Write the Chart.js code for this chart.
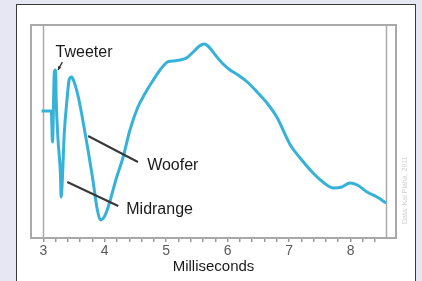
<!DOCTYPE html>
<html>
<head>
<meta charset="utf-8">
<script src="https://cdn.jsdelivr.net/npm/chart.js@4"></script>
<style>
  html, body { margin: 0; padding: 0; }
  body { width: 422px; height: 281px; background: #e7e7f3; position: relative; overflow: hidden; }
  .panel { position: absolute; left: 16px; top: 4px; width: 398px; height: 290px; background: #fff; border: 1px solid #3a3a3a; }
  .chart-wrap { position: absolute; left: 0; top: 0; width: 422px; height: 281px; }
</style>
</head>
<body>
<div class="panel"></div>
<div class="chart-wrap"><canvas id="responseChart" width="422" height="281"></canvas></div>
<script>
// time axis (ms) and response amplitude (arbitrary units)
const timeMs = [2.97, 3.13, 3.15, 3.18, 3.20, 3.21, 3.24, 3.28, 3.29, 3.31, 3.34, 3.39, 3.42, 3.46, 3.49,
  3.57, 3.68, 3.80, 3.88, 3.93, 3.98, 4.04, 4.09, 4.19, 4.30, 4.41, 4.54, 4.66, 4.79, 4.90, 5.02,
  5.10, 5.23, 5.33, 5.44, 5.54, 5.62, 5.68, 5.80, 5.91, 6.04, 6.17, 6.32, 6.48, 6.64, 6.80, 7.02,
  7.18, 7.39, 7.55, 7.72, 7.86, 7.99, 8.11, 8.27, 8.43, 8.58];
const amplitude = [127, 127, 96, 166, 168, 138, 98, 63, 41, 58, 103, 141, 158, 161, 158,
  141, 105, 61, 28, 18, 20, 28, 38, 60, 81, 108, 131, 145, 158, 168, 176,
  177, 178, 180, 186, 192, 194, 192, 183, 175, 168, 163, 156, 146, 135, 121, 93,
  80, 65, 56, 50, 51, 55, 53, 46, 41, 35];
const majorTicks = [3, 4, 5, 6, 7, 8];
const axisTitle = 'Milliseconds';
const labels = ['Tweeter', 'Woofer', 'Midrange'];
const sourceNote = 'Data: Kal Plaha, 2011';

const lineColor = '#36b1d8';
const boxColor = '#a9a9a9';

const points = timeMs.map((t, i) => ({x: t, y: amplitude[i]}));

// annotation anchors in data units
const notes = [
  {text: labels[0], x: 3.20, y: 181, from: [3.31, 176], to: [3.24, 168], head: true},
  {text: labels[1], x: 4.69, y: 68, from: [4.54, 76], to: [3.73, 102], head: false},
  {text: labels[2], x: 4.35, y: 24, from: [4.22, 32], to: [3.39, 56], head: false}
];

const frame = {
  id: 'frame',
  beforeDatasetsDraw(chart) {
    const {ctx, chartArea: a, scales: {x}} = chart;
    ctx.save();
    ctx.strokeStyle = boxColor;
    ctx.lineWidth = 2;
    ctx.strokeRect(a.left, a.top, a.right - a.left, a.bottom - a.top);
    ctx.lineWidth = 1.5;
    [3, timeMs[timeMs.length - 1]].forEach(v => {
      const px = Math.round(x.getPixelForValue(v)) + 0.5;
      ctx.beginPath();
      ctx.moveTo(px, a.top);
      ctx.lineTo(px, a.bottom);
      ctx.stroke();
    });
    // source note, rotated
    ctx.fillStyle = '#cfcfcf';
    ctx.font = '7px "Liberation Sans", Arial, sans-serif';
    ctx.translate(a.right + 9, a.bottom - 14);
    ctx.rotate(-Math.PI / 2);
    ctx.textBaseline = 'middle';
    ctx.fillText(sourceNote, 0, 0);
    ctx.restore();
  },
  afterDatasetsDraw(chart) {
    const {ctx, scales: {x, y}} = chart;
    ctx.save();
    notes.forEach(n => {
      const x1 = x.getPixelForValue(n.from[0]), y1 = y.getPixelForValue(n.from[1]);
      const x2 = x.getPixelForValue(n.to[0]), y2 = y.getPixelForValue(n.to[1]);
      ctx.strokeStyle = '#383838';
      ctx.lineWidth = n.head ? 1.5 : 2;
      ctx.beginPath();
      ctx.moveTo(x1, y1);
      ctx.lineTo(x2, y2);
      ctx.stroke();
      if (n.head) {
        const ang = Math.atan2(y2 - y1, x2 - x1);
        ctx.fillStyle = '#333';
        ctx.beginPath();
        ctx.moveTo(x2, y2);
        ctx.lineTo(x2 - 4 * Math.cos(ang - 0.5), y2 - 4 * Math.sin(ang - 0.5));
        ctx.lineTo(x2 - 4 * Math.cos(ang + 0.5), y2 - 4 * Math.sin(ang + 0.5));
        ctx.closePath();
        ctx.fill();
      }
      ctx.fillStyle = '#1a1a1a';
      ctx.font = '16px "Liberation Sans Narrow", "Liberation Sans", Arial, sans-serif';
      ctx.textBaseline = 'alphabetic';
      ctx.fillText(n.text, x.getPixelForValue(n.x), y.getPixelForValue(n.y));
    });
    ctx.restore();
  }
};

new Chart(document.getElementById('responseChart'), {
  type: 'line',
  data: {
    datasets: [{
      data: points,
      borderColor: lineColor,
      borderWidth: 3,
      pointRadius: 0,
      cubicInterpolationMode: 'monotone',
      fill: false
    }]
  },
  options: {
    responsive: false,
    animation: false,
    layout: {padding: {left: 31, right: 26, top: 25, bottom: 0}},
    plugins: {legend: {display: false}, tooltip: {enabled: false}},
    scales: {
      x: {
        type: 'linear',
        min: 2.8,
        max: 8.74,
        afterBuildTicks(scale) {
          const t = [];
          for (let i = 0; i <= 27; i++) t.push({value: Math.round((3 + i * 0.2) * 10) / 10});
          scale.ticks = t;
        },
        afterFit(scale) { scale.height = 43; },
        border: {display: false},
        grid: {drawOnChartArea: false, drawTicks: true, tickLength: 4, color: '#9a9a9a', lineWidth: 1.5},
        ticks: {
          autoSkip: false,
          maxRotation: 0,
          padding: 1,
          color: '#5a5a5a',
          font: {family: '"Liberation Sans", Arial, sans-serif', size: 14},
          callback: v => majorTicks.includes(v) ? String(v) : ''
        },
        title: {
          display: true,
          text: axisTitle,
          color: '#1a1a1a',
          font: {family: '"Liberation Sans Narrow", "Liberation Sans", Arial, sans-serif', size: 15},
          padding: {top: 0, bottom: 5}
        }
      },
      y: {
        display: false,
        min: 0,
        max: 213
      }
    }
  },
  plugins: [frame]
});
</script>
</body>
</html>
